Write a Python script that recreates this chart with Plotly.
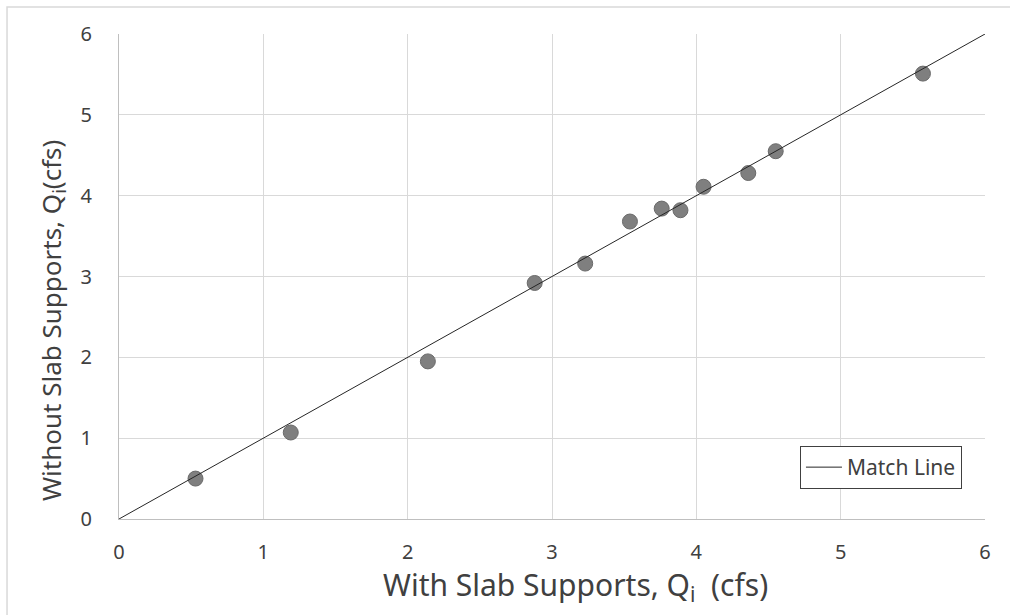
import plotly.graph_objects as go

# Data
with_supports = [0.53, 1.19, 2.14, 2.88, 3.23, 3.54, 3.76, 3.89, 4.05, 4.36, 4.55, 5.57]
without_supports = [0.50, 1.07, 1.95, 2.92, 3.16, 3.68, 3.84, 3.82, 4.11, 4.28, 4.55, 5.51]
match_x = [0, 6]
match_y = [0, 6]
tick_vals = [0, 1, 2, 3, 4, 5, 6]

FONT = "Noto Sans"
TXT = "#404040"

fig = go.Figure()
fig.add_trace(go.Scatter(
    x=with_supports, y=without_supports, mode="markers",
    marker=dict(size=15, color="#7f7f7f", line=dict(color="#6a6a6a", width=1)),
    showlegend=False, cliponaxis=False,
))
fig.add_trace(go.Scatter(
    x=match_x, y=match_y, mode="lines", name="Match Line",
    line=dict(color="#262626", width=1), cliponaxis=False,
))

fig.update_layout(
    width=1010, height=615,
    margin=dict(l=119, r=25, t=34, b=96),
    paper_bgcolor="white", plot_bgcolor="white",
    font=dict(family=FONT, color=TXT, size=20),
    showlegend=True,
    legend=dict(
        x=0.9734, xanchor="right", y=0.0619, yanchor="bottom",
        bordercolor="#404040", borderwidth=1, bgcolor="white",
        font=dict(size=21, color=TXT),
        itemwidth=36, tracegroupgap=0,
    ),
    xaxis=dict(
        range=[0, 6], tickvals=tick_vals, showgrid=True, gridcolor="#d9d9d9",
        zeroline=False, showline=True, linecolor="#bfbfbf", mirror=False,
        ticks="", ticklabelstandoff=15,
        tickfont=dict(size=20, color=TXT),
    ),
    yaxis=dict(
        range=[0, 6], tickvals=tick_vals, showgrid=True, gridcolor="#d9d9d9",
        zeroline=False, showline=True, linecolor="#bfbfbf",
        ticks="", ticklabelstandoff=22,
        tickfont=dict(size=20, color=TXT),
    ),
    annotations=[
        dict(text="With Slab Supports, Q<sub>i</sub>  (cfs)", xref="paper", yref="paper",
             x=0.5266, y=-0.138, xanchor="center", yanchor="middle", showarrow=False,
             font=dict(size=30, color=TXT)),
        dict(text="Without Slab Supports, Q<sub>i</sub>(cfs)", xref="paper", yref="paper",
             x=-0.0774, y=0.41, xanchor="center", yanchor="middle", showarrow=False,
             textangle=-90, font=dict(size=26, color=TXT)),
    ],
    shapes=[dict(type="rect", xref="paper", yref="paper",
                 x0=-0.1293, x1=1.04, y0=-0.22, y1=1.0557,
                 line=dict(color="#d9d9d9", width=1.5), layer="below")],
)

fig.write_html("out.html")
